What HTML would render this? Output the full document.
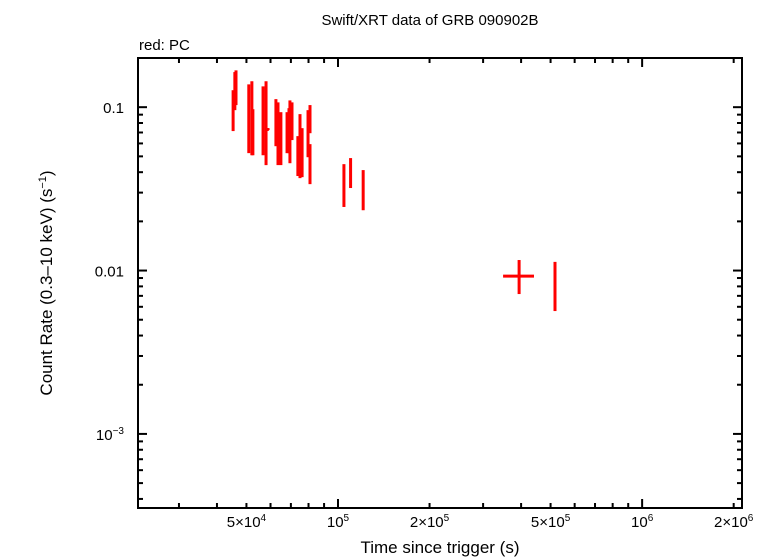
<!DOCTYPE html>
<html><head><meta charset="utf-8"><style>
body{margin:0;background:#fff;}
svg{display:block;font-family:"Liberation Sans",sans-serif;}
</style></head><body>
<svg id="chart" width="774" height="558" viewBox="0 0 774 558">
<text x="430" y="25" font-size="15" text-anchor="middle">Swift/XRT data of GRB 090902B</text>
<text x="139" y="50" font-size="15">red: PC</text>
<text x="440" y="553" font-size="17" text-anchor="middle">Time since trigger (s)</text>
<text transform="translate(52,283) rotate(-90)" font-size="17" text-anchor="middle">Count Rate (0.3–10 keV) (s<tspan dy="-6" font-size="11">−1</tspan><tspan dy="6">)</tspan></text>
<g id="axes"></g>
<g id="series"></g>
<rect x="138" y="58" width="604" height="450" fill="none" stroke="#000" stroke-width="2"/>
</svg>
<script>
const times=[4.52e4,4.58e4,4.62e4,5.09e4,5.21e4,5.25e4,5.67e4,5.80e4,5.89e4,6.25e4,6.35e4,6.49e4,6.80e4,6.90e4,6.95e4,7.06e4,7.38e4,7.50e4,7.62e4,7.97e4,8.09e4,8.09e4,1.046e5,1.10e5,1.21e5,3.94e5,5.17e5];
const timeLo=[4.49e4,4.55e4,4.59e4,5.06e4,5.18e4,5.22e4,5.64e4,5.77e4,5.86e4,6.22e4,6.32e4,6.46e4,6.77e4,6.87e4,6.92e4,7.03e4,7.35e4,7.47e4,7.59e4,7.94e4,8.06e4,8.06e4,1.04e5,1.095e5,1.205e5,3.49e5,5.15e5];
const timeHi=[4.55e4,4.61e4,4.65e4,5.12e4,5.24e4,5.28e4,5.70e4,5.83e4,5.92e4,6.28e4,6.38e4,6.52e4,6.83e4,6.93e4,6.98e4,7.09e4,7.41e4,7.53e4,7.65e4,8.00e4,8.12e4,8.12e4,1.052e5,1.105e5,1.215e5,4.41e5,5.19e5];
const rates=[0.095,0.123,0.131,0.090,0.087,0.072,0.083,0.080,0.073,0.080,0.071,0.065,0.065,0.067,0.065,0.075,0.050,0.057,0.052,0.066,0.080,0.045,0.034,0.039,0.031,0.00925,0.0081];
const rateLo=[0.0714,0.0959,0.103,0.0523,0.0508,0.0508,0.0508,0.0442,0.0724,0.0577,0.0442,0.0442,0.0523,0.0523,0.0454,0.0629,0.0379,0.0368,0.0373,0.0494,0.0693,0.0338,0.0245,0.0320,0.0234,0.00718,0.00565];
const rateHi=[0.127,0.164,0.168,0.138,0.144,0.0972,0.134,0.144,0.0744,0.112,0.107,0.0932,0.0932,0.0986,0.110,0.107,0.0665,0.0906,0.0744,0.0959,0.103,0.0594,0.0448,0.0488,0.0412,0.0116,0.0113];
const xMajor=[5e4,1e5,2e5,5e5,1e6,2e6];
const xMajorLabels=[["5×10","4"],["10","5"],["2×10","5"],["5×10","5"],["10","6"],["2×10","6"]];
const yMajor=[0.1,0.01,0.001];
const L=138,R=742,T=58,B=508,xmin=Math.log10(2.2e4),xmax=Math.log10(2.13e6),ymin=Math.log10(3.52e-4),ymax=Math.log10(0.2);
const X=t=>L+(Math.log10(t)-xmin)/(xmax-xmin)*(R-L);
const Y=r=>B-(Math.log10(r)-ymin)/(ymax-ymin)*(B-T);
const NS="http://www.w3.org/2000/svg";
const ax=document.getElementById('axes'),se=document.getElementById('series');
function mk(tag,attrs,parent){const e=document.createElementNS(NS,tag);for(const k in attrs)e.setAttribute(k,attrs[k]);parent.appendChild(e);return e;}
for(let d=4;d<=6;d++)for(let m=1;m<10;m++){const t=m*Math.pow(10,d);if(t<2.2e4||t>2.13e6)continue;const x=X(t);const len=(m===1)?9:5;
 const a=mk('line',{x1:x,x2:x,y1:B,y2:B-len,stroke:'#000','stroke-width':2},ax);
 
 
 const b=mk('line',{x1:x,x2:x,y1:T,y2:T+len,stroke:'#000','stroke-width':2},ax);
 
 }
xMajor.forEach((t,i)=>{const tx=mk('text',{x:X(t),y:527,'font-size':15,'text-anchor':'middle'},ax);
 
 
 tx.textContent=xMajorLabels[i][0];const sp=mk('tspan',{dy:-6,'font-size':10},tx);sp.textContent=xMajorLabels[i][1];});
for(let d=-4;d<=-1;d++)for(let m=1;m<10;m++){const r=m*Math.pow(10,d);if(r<3.52e-4||r>0.2)continue;const y=Y(r);const len=(m===1)?9:5;
 const a=mk('line',{x1:L,x2:L+len,y1:y,y2:y,stroke:'#000','stroke-width':2},ax);
 
 
 const b=mk('line',{x1:R,x2:R-len,y1:y,y2:y,stroke:'#000','stroke-width':2},ax);
 
 }
[["0.1",""],["0.01",""],["10","−3"]].forEach((lb,i)=>{const tx=mk('text',{x:124,y:Y(yMajor[i])+6,'font-size':15,'text-anchor':'end'},ax);
 
 
 tx.textContent=lb[0];if(lb[1]){const sp=mk('tspan',{dy:-6,'font-size':10},tx);sp.textContent=lb[1];}});
times.forEach((t,i)=>{const g=mk('g',{},se);
 
 
 mk('line',{x1:X(t),x2:X(t),y1:Y(rateLo[i]),y2:Y(rateHi[i]),stroke:'#f00','stroke-width':3},g);
 mk('line',{x1:X(timeLo[i]),x2:X(timeHi[i]),y1:Y(rates[i]),y2:Y(rates[i]),stroke:'#f00','stroke-width':3},g);});
</script>
</body></html>
